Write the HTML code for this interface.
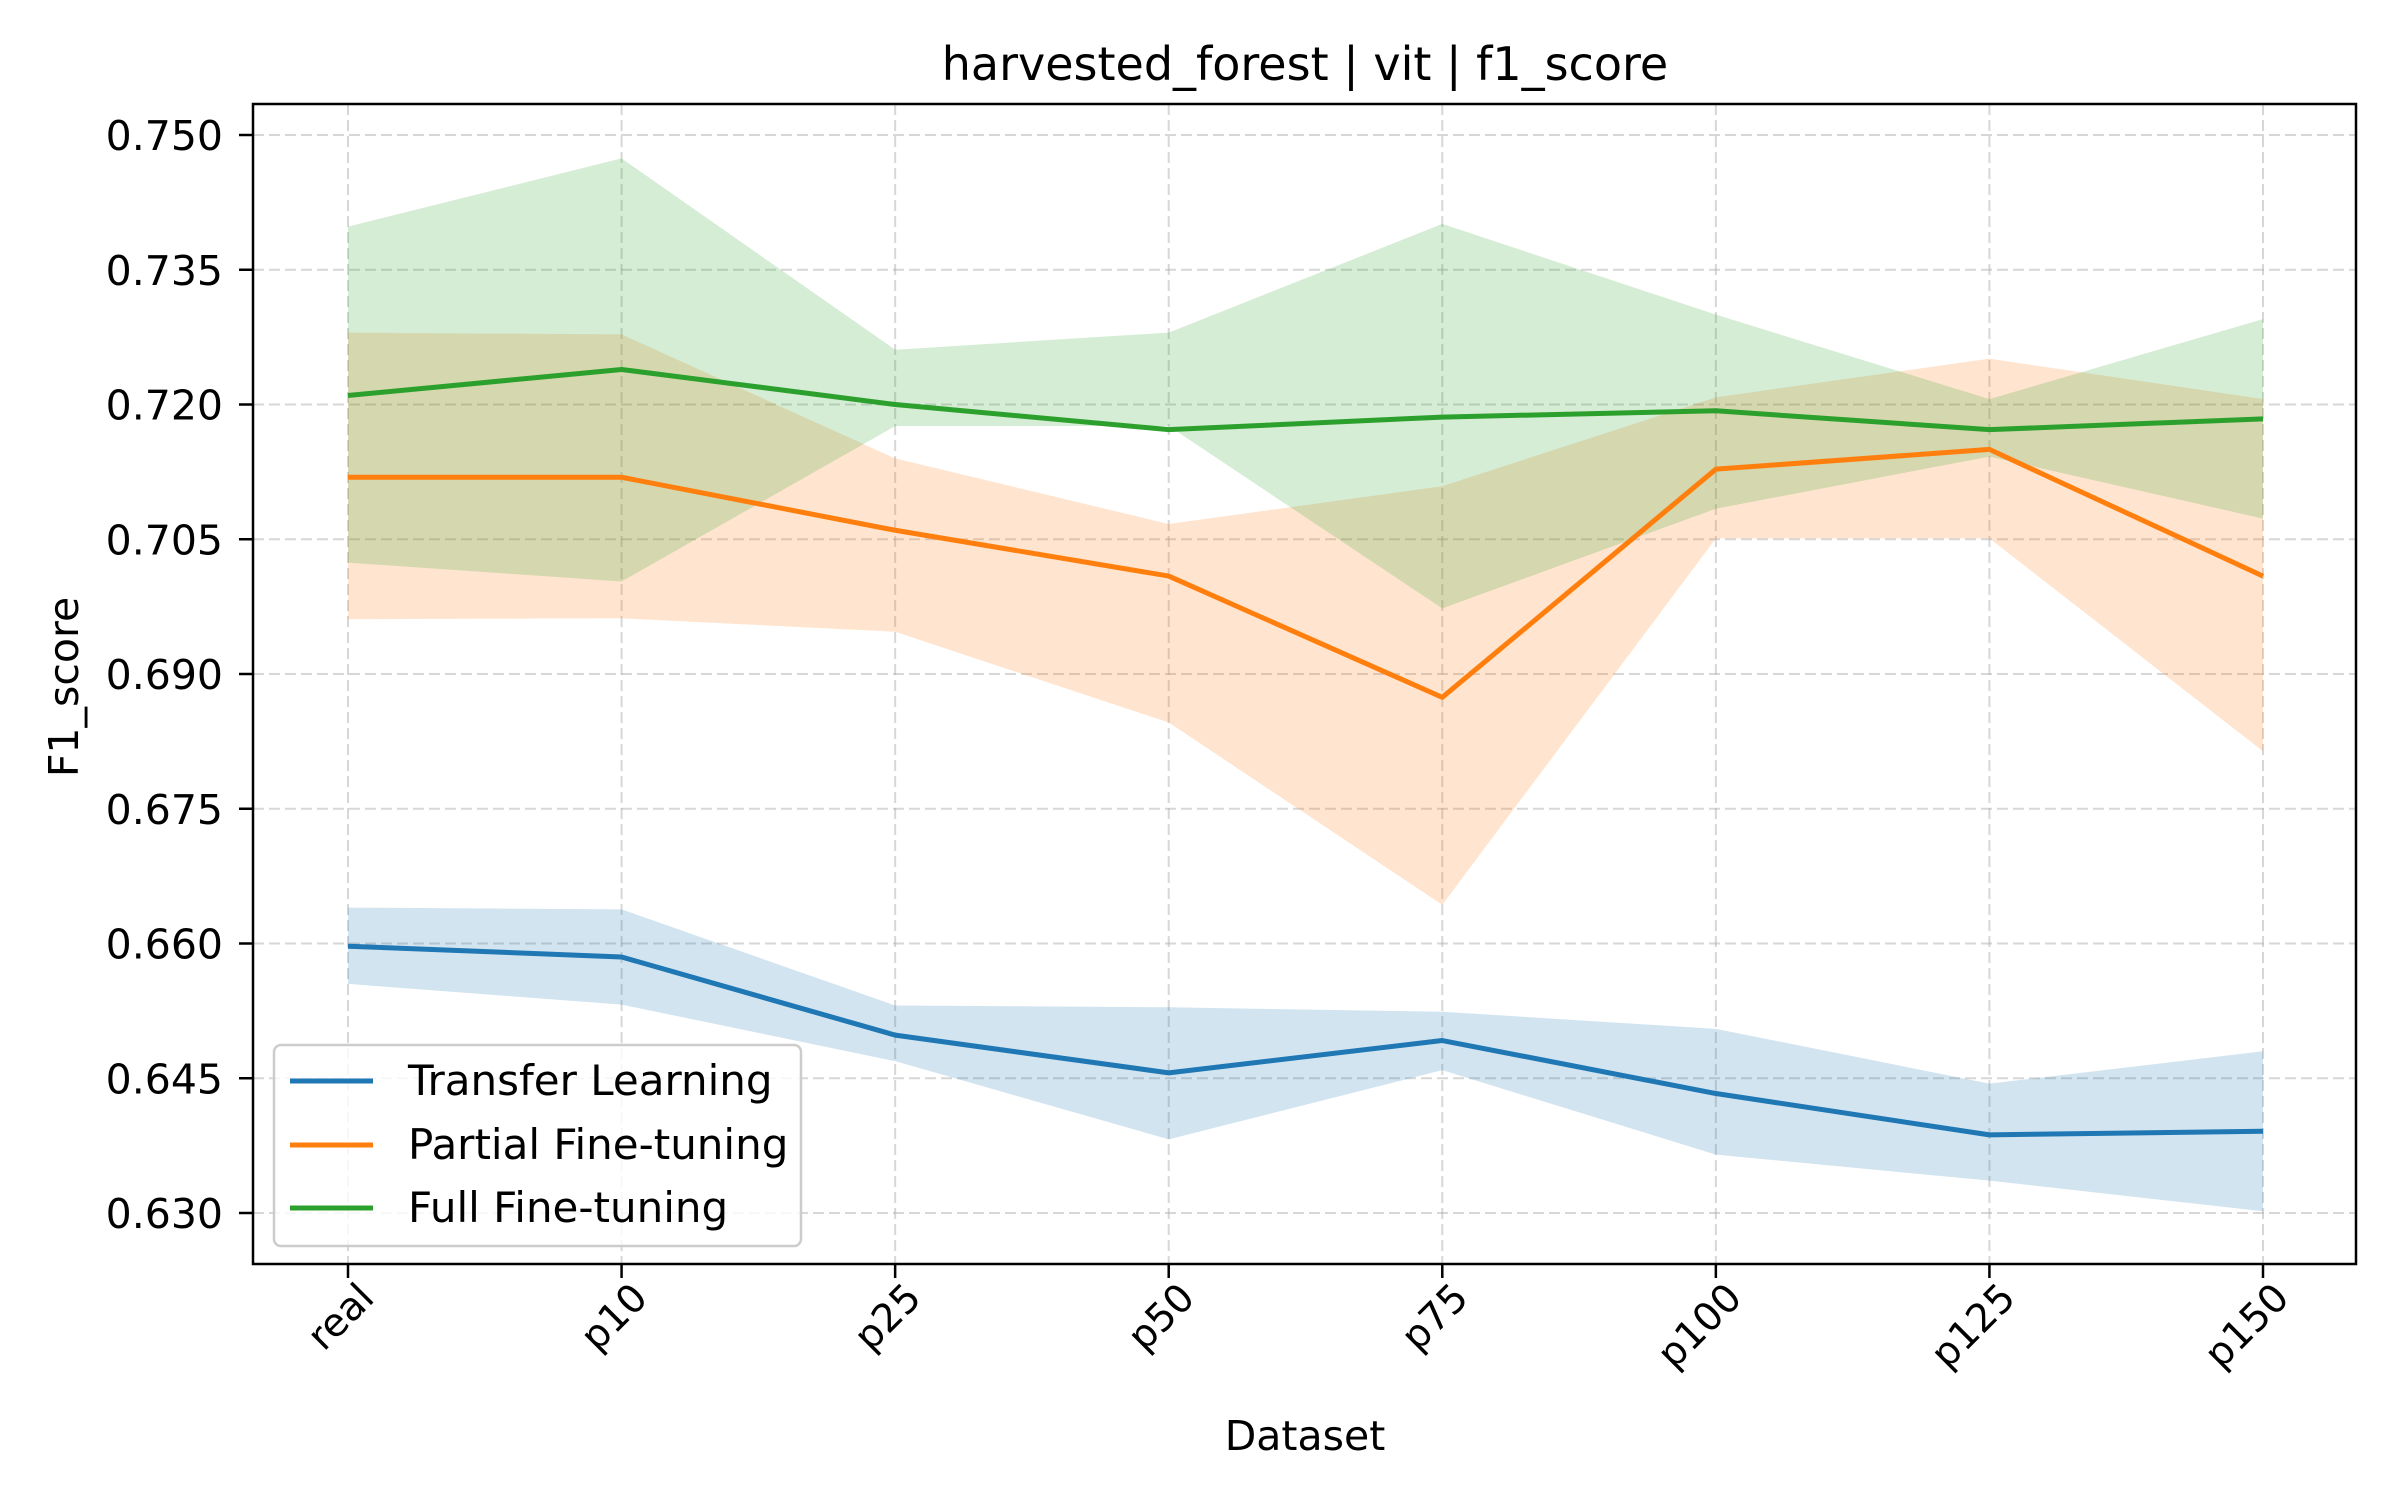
<!DOCTYPE html>
<html><head><meta charset="utf-8"><style>
body{margin:0;background:#fff}
text{font-family:"DejaVu Sans","Liberation Sans",sans-serif;fill:#000}
</style></head><body>
<svg id="chart" width="2400" height="1500" xmlns="http://www.w3.org/2000/svg">
<rect width="2400" height="1500" fill="#fff"/>
<g id="grid"></g>
<g id="bands"></g>
<g id="lines"></g>
<rect x="253" y="104" width="2103" height="1160" fill="none" stroke="#000" stroke-width="2.5"/>
<g id="ticks"></g>
<text x="1305" y="80" font-size="46" text-anchor="middle">harvested_forest | vit | f1_score</text>
<text x="1305" y="1450" font-size="41" text-anchor="middle">Dataset</text>
<text x="0" y="0" font-size="41" text-anchor="middle" transform="translate(78,687) rotate(-90)">F1_score</text>
<g>
<rect x="274" y="1045" width="527" height="201" rx="7" fill="#fff" fill-opacity="0.8" stroke="#ccc" stroke-width="2.5"/>
<line x1="290" y1="1081" x2="373" y2="1081" stroke="#1f77b4" stroke-width="5"/>
<text x="408" y="1095" font-size="42">Transfer Learning</text>
<line x1="290" y1="1145" x2="373" y2="1145" stroke="#ff7f0e" stroke-width="5"/>
<text x="408" y="1159" font-size="42">Partial Fine-tuning</text>
<line x1="290" y1="1208" x2="373" y2="1208" stroke="#2ca02c" stroke-width="5"/>
<text x="408" y="1222" font-size="42">Full Fine-tuning</text>
</g>
</svg>
<script>
const categories=["real","p10","p25","p50","p75","p100","p125","p150"];
const yTicks=[0.630,0.645,0.660,0.675,0.690,0.705,0.720,0.735,0.750];
const tlMean=[0.6597,0.6585,0.6498,0.6456,0.6492,0.6433,0.6387,0.6391];
const tlUpper=[0.6640,0.6638,0.6531,0.6529,0.6524,0.6505,0.6444,0.6480];
const tlLower=[0.6555,0.6532,0.6469,0.6382,0.6459,0.6365,0.6336,0.6302];
const pfMean=[0.7119,0.7119,0.7060,0.7009,0.6874,0.7128,0.7150,0.7009];
const pfUpper=[0.7280,0.7278,0.7140,0.7067,0.7109,0.7208,0.7251,0.7206];
const pfLower=[0.6961,0.6962,0.6947,0.6846,0.6643,0.7051,0.7051,0.6814];
const ffMean=[0.7210,0.7239,0.7200,0.7172,0.7186,0.7193,0.7172,0.7184];
const ffUpper=[0.7398,0.7474,0.7261,0.7280,0.7401,0.7300,0.7206,0.7295];
const ffLower=[0.7024,0.7003,0.7176,0.7176,0.6973,0.7084,0.7142,0.7073];
const NS="http://www.w3.org/2000/svg";
function xS(i){return 348+i*(2263-348)/(categories.length-1);}
function yS(v){return 135+(0.750-v)/0.120*(1213-135);}
function mk(tag,attrs,parent){const e=document.createElementNS(NS,tag);for(const k in attrs)e.setAttribute(k,attrs[k]);parent.appendChild(e);return e;}
const grid=document.getElementById('grid'),ticks=document.getElementById('ticks'),bands=document.getElementById('bands'),lines=document.getElementById('lines');
yTicks.forEach(t=>{const y=yS(t);
const g=mk('line',{x1:253,x2:2356,y1:y,y2:y,stroke:'#b0b0b0','stroke-opacity':0.5,'stroke-width':2,'stroke-dasharray':'11,5'},grid);


mk('line',{x1:239,x2:253,y1:y,y2:y,stroke:'#000','stroke-width':2.5},ticks);
const tx=mk('text',{x:223,y:y+15,'font-size':41,'text-anchor':'end'},ticks);tx.textContent=t.toFixed(3);


});
categories.forEach((c,i)=>{const x=xS(i);
const g=mk('line',{x1:x,x2:x,y1:104,y2:1264,stroke:'#b0b0b0','stroke-opacity':0.5,'stroke-width':2,'stroke-dasharray':'11,5'},grid);


mk('line',{x1:x,x2:x,y1:1264,y2:1278,stroke:'#000','stroke-width':2.5},ticks);
const tx=mk('text',{x:0,y:0,'font-size':39,'text-anchor':'end',transform:`translate(${x+28},${1300}) rotate(-45)`},ticks);tx.textContent=c;


});
const series=[["transfer-learning",tlMean,tlUpper,tlLower,"#1f77b4"],["partial-fine-tuning",pfMean,pfUpper,pfLower,"#ff7f0e"],["full-fine-tuning",ffMean,ffUpper,ffLower,"#2ca02c"]];
series.forEach(([n,m,u,l,c])=>{
let pts=u.map((v,i)=>xS(i)+','+yS(v));for(let i=l.length-1;i>=0;i--)pts.push(xS(i)+','+yS(l[i]));
const p=mk('polygon',{points:pts.join(' '),fill:c,'fill-opacity':0.2},bands);


const pl=mk('polyline',{points:m.map((v,i)=>xS(i)+','+yS(v)).join(' '),fill:'none',stroke:c,'stroke-width':5,'stroke-linejoin':'round'},lines);


});
</script>
</body></html>
